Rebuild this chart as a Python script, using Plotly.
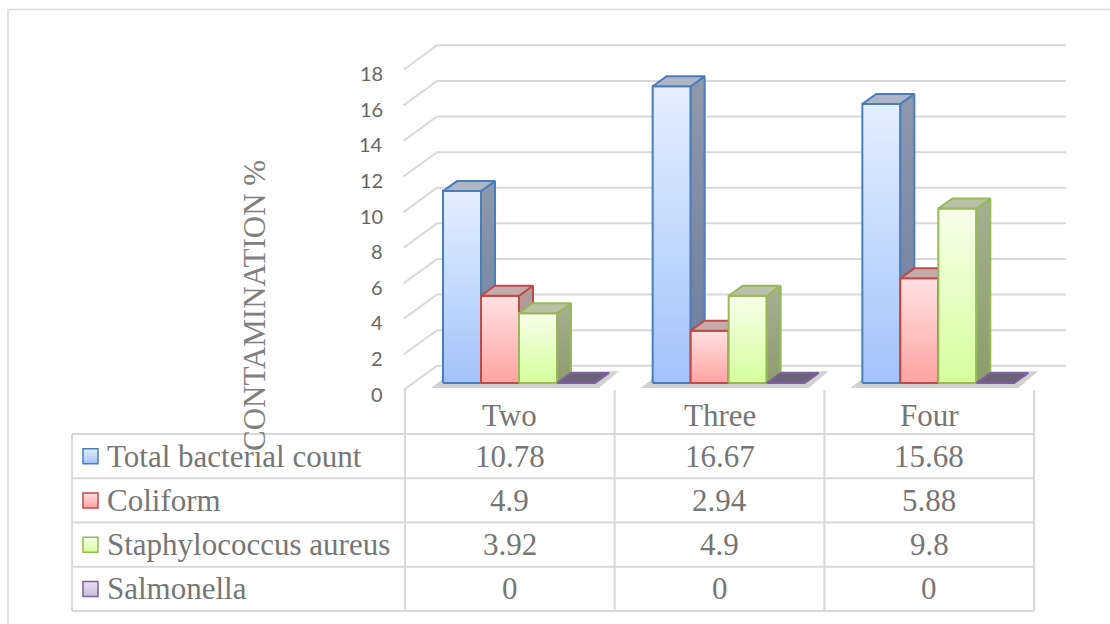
import plotly.graph_objects as go

# ---------------- data ----------------
categories = ["Two", "Three", "Four"]
series_names = ["Total bacterial count", "Coliform", "Staphylococcus aureus", "Salmonella"]
total_bacterial_count = [10.78, 16.67, 15.68]
coliform = [4.9, 2.94, 5.88]
staphylococcus_aureus = [3.92, 4.9, 9.8]
salmonella = [0, 0, 0]
table_text = [["10.78", "16.67", "15.68"],
              ["4.9", "2.94", "5.88"],
              ["3.92", "4.9", "9.8"],
              ["0", "0", "0"]]
y_ticks = [0, 2, 4, 6, 8, 10, 12, 14, 16, 18]
y_title = "CONTAMINATION %"

series_values = [total_bacterial_count, coliform, staphylococcus_aureus, salmonella]

# ---------------- layout geometry ----------------
W, H = 1110, 624
X0PX, KX = 405.0, 209.67   # pixel of category start 0, px per category
Y0PX, KY = 383.0, 17.8     # pixel of value 0 (bar base), px per unit


def px2x(px):
    return (px - X0PX) / KX


def px2y(py):
    return (Y0PX - py) / KY


BAR_OFF = 38 / KX
BAR_W = 38 / KX
DX = 14 / KX
DY = 10 / KY
WALL_X = px2x(437)
WALL_DY = 0.97
FRONT_X = px2x(403.5)
FRONT_DY = -0.40

styles = [
    dict(front=("#a3c2fa", "#e4efff"), border="#4a7ebb", side=("#6b7c9e", "#8f99ac"), top="#adb5c7"),
    dict(front=("#ffa3a3", "#ffe1e1"), border="#be4b48", side=("#9c8080", "#b39d9d"), top="#c6abab"),
    dict(front=("#d6ff9c", "#f6ffea"), border="#98b954", side=("#8c9d6c", "#a5af94"), top="#b9c2a9"),
    dict(front=("#c9bcdb", "#e6e0f0"), border="#7d60a0", side=("#5a5468", "#6c6478"), top="#6b6478"),
]

GRID = "#d9d9d9"
TEXT_GRAY = "#767676"
SERIF = "Liberation Serif"
TABLE_FONT = 31

fig = go.Figure()

# ---------------- gridlines (back wall + floor diagonals) ----------------
gx, gy = [], []
for v in y_ticks:
    gx += [FRONT_X, WALL_X, WALL_X + 3.0, None]
    gy += [v + FRONT_DY, v + WALL_DY, v + WALL_DY, None]
fig.add_trace(go.Scatter(x=gx, y=gy, mode="lines", line=dict(color=GRID, width=2),
                         hoverinfo="skip", showlegend=False))

# ---------------- floor shadows ----------------
n_series = len(series_values)
for i in range(len(categories)):
    g0 = i + BAR_OFF
    g1 = i + BAR_OFF + n_series * BAR_W
    fig.add_trace(go.Scatter(
        x=[g0 - 12 / KX, g1 + 4 / KX, g1 + DX + 10 / KX, g0 + DX - 4 / KX, g0 - 12 / KX],
        y=[-0.28, -0.28, DY + 0.1, DY + 0.1, -0.28],
        mode="lines", fill="toself", fillcolor="rgba(70,70,70,0.25)",
        line=dict(width=0), hoverinfo="skip", showlegend=False))

# ---------------- 3D bars ----------------
for i in range(len(categories)):
    for j, vals in enumerate(series_values):
        v = vals[i]
        st = styles[j]
        x0 = i + BAR_OFF + j * BAR_W
        x1 = x0 + BAR_W
        lw = 2
        if v > 0:
            # front face
            fig.add_trace(go.Scatter(
                x=[x0, x1, x1, x0, x0], y=[0, 0, v, v, 0], mode="lines", fill="toself",
                fillgradient=dict(type="vertical", colorscale=[[0, st["front"][0]], [1, st["front"][1]]]),
                line=dict(color=st["border"], width=lw), hoverinfo="skip", showlegend=False))
            # side face
            fig.add_trace(go.Scatter(
                x=[x1, x1 + DX, x1 + DX, x1, x1], y=[0, DY, v + DY, v, 0], mode="lines", fill="toself",
                fillgradient=dict(type="vertical", colorscale=[[0, st["side"][0]], [1, st["side"][1]]]),
                line=dict(color=st["border"], width=lw), hoverinfo="skip", showlegend=False))
        # top face
        fig.add_trace(go.Scatter(
            x=[x0, x1, x1 + DX, x0 + DX, x0], y=[v, v, v + DY, v + DY, v], mode="lines", fill="toself",
            fillcolor=st["top"], line=dict(color=st["border"], width=lw),
            hoverinfo="skip", showlegend=False))

annotations = []
shapes = []

# ---------------- tick labels ----------------
for v in y_ticks:
    annotations.append(dict(x=px2x(385), y=v + FRONT_DY - 0.2, xref="x", yref="y", text=str(v),
                            showarrow=False, xanchor="right", yanchor="middle",
                            font=dict(family="Lato", size=20, color="#666666")))

# ---------------- axis title ----------------
annotations.append(dict(x=px2x(254), y=px2y(306), xref="x", yref="y", text=y_title, textangle=-90,
                        showarrow=False, xanchor="center", yanchor="middle",
                        font=dict(family=SERIF, size=31, color="#808080")))

# ---------------- data table ----------------
T_LEFT = px2x(72)
T_HEAD_TOP = px2y(390)
ROW_TOP = 434.0
ROW_H = 44.25
n_rows = len(series_names)
line = dict(color=GRID, width=2)
for r in range(n_rows + 1):
    yy = px2y(ROW_TOP + r * ROW_H)
    shapes.append(dict(type="line", xref="x", yref="y", x0=T_LEFT, x1=len(categories), y0=yy, y1=yy, line=line))
shapes.append(dict(type="line", xref="x", yref="y", x0=T_LEFT, x1=T_LEFT,
                   y0=px2y(ROW_TOP), y1=px2y(ROW_TOP + n_rows * ROW_H), line=line))
for c in range(len(categories) + 1):
    shapes.append(dict(type="line", xref="x", yref="y", x0=c, x1=c,
                       y0=T_HEAD_TOP, y1=px2y(ROW_TOP + n_rows * ROW_H), line=line))

# header
for c, name in enumerate(categories):
    annotations.append(dict(x=c + 0.5, y=px2y(415), xref="x", yref="y", text=name, showarrow=False,
                            xanchor="center", yanchor="middle",
                            font=dict(family=SERIF, size=TABLE_FONT, color=TEXT_GRAY)))
# rows
for r, name in enumerate(series_names):
    yc = px2y(ROW_TOP + (r + 0.5) * ROW_H)
    annotations.append(dict(x=px2x(105), y=yc, xref="x", yref="y", text=name, showarrow=False,
                            xanchor="left", yanchor="middle",
                            font=dict(family=SERIF, size=TABLE_FONT, color=TEXT_GRAY)))
    for c in range(len(categories)):
        annotations.append(dict(x=c + 0.5, y=yc, xref="x", yref="y", text=table_text[r][c], showarrow=False,
                                xanchor="center", yanchor="middle",
                                font=dict(family=SERIF, size=TABLE_FONT, color=TEXT_GRAY)))

# legend keys
for r, name in enumerate(series_names):
    st = styles[r]
    fig.add_trace(go.Scatter(
        x=[px2x(90.5)], y=[px2y(ROW_TOP + (r + 0.5) * ROW_H)], mode="markers",
        marker=dict(symbol="square", size=15, color=st["front"][1],
                    gradient=dict(type="vertical", color=st["front"][0]),
                    line=dict(color=st["border"], width=1.5)),
        hoverinfo="skip", showlegend=False))

# outer chart border
shapes.append(dict(type="rect", xref="paper", yref="paper", x0=8 / W, x1=1.02, y0=-0.02, y1=1 - 9.5 / H,
                   line=dict(color="#d9d9d9", width=1.5), fillcolor="rgba(0,0,0,0)", layer="below"))

fig.update_layout(
    width=W, height=H, margin=dict(l=0, r=0, t=0, b=0),
    paper_bgcolor="white", plot_bgcolor="white",
    xaxis=dict(range=[px2x(0), px2x(W)], visible=False, fixedrange=True),
    yaxis=dict(range=[px2y(H), px2y(0)], visible=False, fixedrange=True),
    annotations=annotations, shapes=shapes, showlegend=False,
)

fig.write_html("out.html")
